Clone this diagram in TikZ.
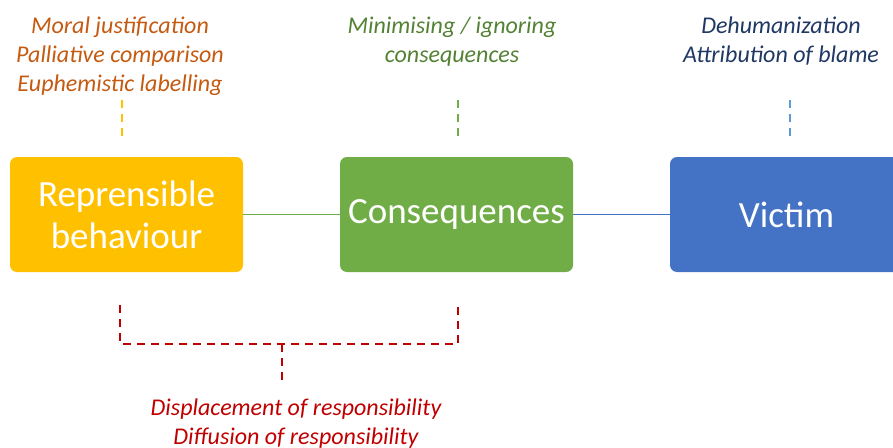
\documentclass[tikz,border=0pt]{standalone}
\usepackage{fontspec}
\setmainfont{Carlito}
\usetikzlibrary{positioning}

\definecolor{boxyellow}{HTML}{FFC000}
\definecolor{boxgreen}{HTML}{70AD47}
\definecolor{boxblue}{HTML}{4472C4}
\definecolor{noteorange}{HTML}{C55A11}
\definecolor{notegreen}{HTML}{548235}
\definecolor{noteblue}{HTML}{203864}
\definecolor{notered}{HTML}{C00000}
\definecolor{stemblue}{HTML}{5B9BD5}

\begin{document}
\begin{tikzpicture}[x=1pt, y=-1pt,
    stage/.style={rounded corners=7pt, minimum width=233pt, minimum height=115pt,
        text=white, align=center, font=\fontsize{37}{42}\selectfont},
    note/.style={align=center, font=\fontsize{24}{29}\selectfont\itshape},
    stem/.style={line width=1.6pt, dashed, dash pattern=on 8pt off 6pt}]
    \useasboundingbox (0,0) rectangle (893,447);

    % the three stages
    \node[stage, fill=boxyellow] (behaviour) at (126.5,214.5) {Reprensible\\behaviour};
    \node[stage, fill=boxgreen] (consequences) at (456.5,214.5) {Consequences};
    \node[stage, fill=boxblue] (victim) at (786.5,214.5) {Victim};
    \draw[line width=1.8pt, boxgreen] (behaviour) -- (consequences);
    \draw[line width=1.8pt, boxblue] (consequences) -- (victim);

    % mechanisms above each stage
    \node[note, text=noteorange] (justify) at (120,56) {Moral justification\\Palliative comparison\\Euphemistic labelling};
    \node[note, text=notegreen] (minimise) at (452,41.5) {Minimising / ignoring\\consequences};
    \node[note, text=noteblue] (blame) at (781,41.5) {Dehumanization\\Attribution of blame};
    \foreach \xpos/\col/\name in {122/boxyellow/behaviour, 458/boxgreen/consequences, 790/stemblue/victim} {
        \coordinate (\name-top) at (\xpos,100);
        \coordinate (\name-bot) at (\xpos,138);
        \draw[stem, \col] (\name-top) -- (\name-bot);
    }

    % bracket below the first two stages
    \coordinate (brace-left) at (120,305);
    \coordinate (brace-right) at (458,305);
    \coordinate (brace-mid) at (282,344);
    \coordinate (brace-end) at (282,384);
    \draw[stem, notered] (brace-left) |- (brace-mid) -| (brace-right);
    \draw[stem, notered] (brace-mid) -- (brace-end);
    \node[note, text=notered] (displace) at (296,424) {Displacement of responsibility\\Diffusion of responsibility};
\end{tikzpicture}
\end{document}
